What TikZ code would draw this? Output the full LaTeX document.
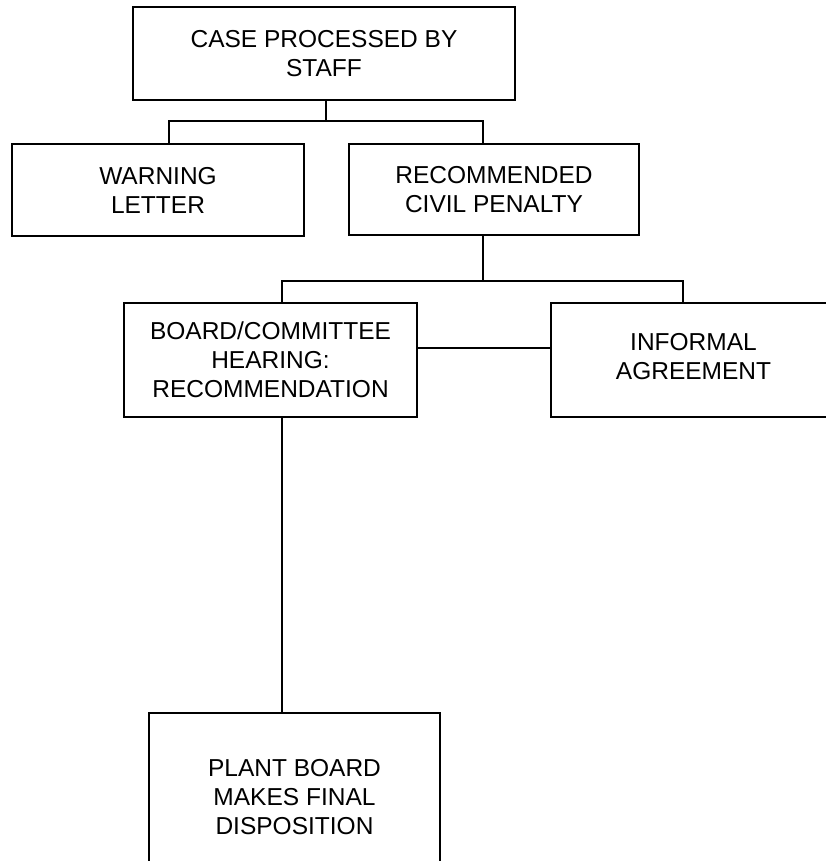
\documentclass[tikz,border=0pt]{standalone}
\usepackage{fontspec}
\setmainfont{Liberation Sans}
\begin{document}
\begin{tikzpicture}[x=1pt,y=-1pt,
  box/.style={draw, line width=1.3pt, align=center, inner sep=0pt,
    font=\fontsize{24.5}{29}\selectfont},
  conn/.style={line width=1.1pt}]
\clip (0,0) rectangle (826,861);
\node[box, minimum width=382pt, minimum height=93pt] (top) at (324,53.5) {CASE PROCESSED BY\\STAFF};
\node[box, minimum width=292pt, minimum height=92pt] (warn) at (158,190) {WARNING\\LETTER};
\node[box, minimum width=290pt, minimum height=91pt] (rec) at (494,189.5) {RECOMMENDED\\CIVIL PENALTY};
\node[box, minimum width=293pt, minimum height=114pt] (board) at (270.5,360) {BOARD/COMMITTEE\\HEARING:\\RECOMMENDATION};
\node[box, minimum width=285pt, minimum height=114pt] (inf) at (693.5,360) {INFORMAL\\AGREEMENT\rule[-8pt]{0pt}{8pt}};
\node[box, minimum width=291pt, minimum height=168pt] (plant) at (294.5,797) {PLANT BOARD\\MAKES FINAL\\DISPOSITION};
\coordinate (j1) at (326,121);
\coordinate (j1l) at (169,121);
\coordinate (j1r) at (483,121);
\coordinate (j2) at (483,281);
\coordinate (j2l) at (282,281);
\coordinate (j2r) at (683,281);
\coordinate (m) at (0,348);
\draw[conn] (top.south -| j1) -- (j1);
\draw[conn] (warn.north -| j1l) -- (j1l) -- (j1r) -- (rec.north -| j1r);
\draw[conn] (rec.south -| j2) -- (j2);
\draw[conn] (board.north -| j2l) -- (j2l) -- (j2r) -- (inf.north -| j2r);
\draw[conn] (board.east |- m) -- (inf.west |- m);
\draw[conn] (board.south -| j2l) -- (plant.north -| j2l);
\end{tikzpicture}
\end{document}
